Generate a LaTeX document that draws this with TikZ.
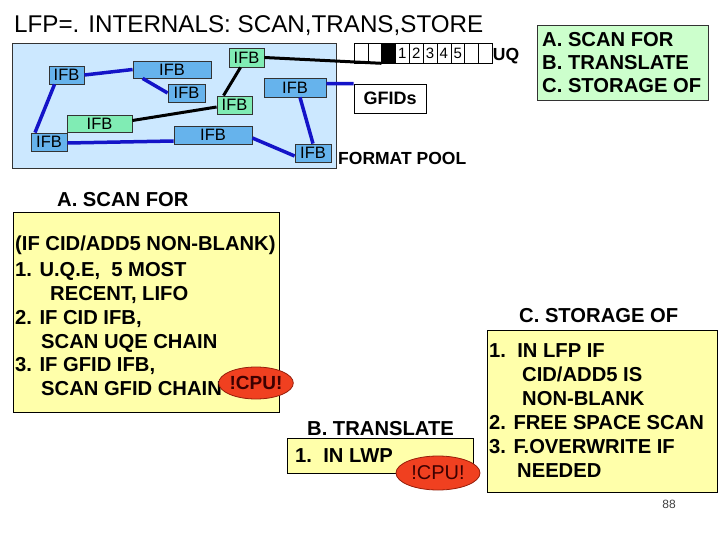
\documentclass[tikz,border=0pt]{standalone}
\usepackage{fontspec}
\setmainfont{Liberation Sans}
\usetikzlibrary{shapes.geometric}
\definecolor{poolfill}{RGB}{204,232,255}
\definecolor{ifbblue}{RGB}{102,179,236}
\definecolor{ifbgreen}{RGB}{128,236,180}
\definecolor{lineblue}{RGB}{20,20,200}
\definecolor{yelfill}{RGB}{255,255,170}
\definecolor{grnbox}{RGB}{204,255,204}
\definecolor{cpufill}{RGB}{240,64,32}
\definecolor{cpuedge}{RGB}{150,30,10}
\definecolor{cputext}{RGB}{60,0,0}
\begin{document}
\begin{tikzpicture}[x=1pt,y=-1pt,
  ifb/.style={draw=black!80,line width=0.8pt,font=\fontsize{16.5}{16.5}\selectfont,inner sep=0pt},
  blueifb/.style={ifb,fill=ifbblue},
  greenifb/.style={ifb,fill=ifbgreen},
  bl/.style={draw=lineblue,line width=3.5pt},
  bk/.style={draw=black,line width=3pt},
  bt/.style={font=\bfseries\fontsize{20.2}{24}\selectfont,inner sep=0pt,anchor=base west},
  st/.style={font=\bfseries\fontsize{17.5}{20}\selectfont,inner sep=0pt},
  ybox/.style={draw=black,line width=0.8pt,fill=yelfill},
  cpu/.style={ellipse,draw=cpuedge,line width=0.8pt,fill=cpufill,inner sep=0pt,text=cputext,
              font=\bfseries\fontsize{19}{19}\selectfont},
  cell/.style={draw=black,line width=0.6pt,minimum width=13.83pt,minimum height=20pt,
               inner sep=0pt,font=\fontsize{15}{15}\selectfont},
]
\useasboundingbox (0,0) rectangle (720,540);

% title
\node[anchor=base west,inner sep=0pt,font=\fontsize{24.2}{26}\selectfont] (title) at (14,33)
  {LFP=. INTERNALS: SCAN,TRANS,STORE};

% format pool
\draw[draw=black!80,line width=0.8pt,fill=poolfill] (12,43) rectangle (336,168);

\node[blueifb,minimum width=35pt,minimum height=18pt] (n1) at (66.5,75) {IFB};
\node[blueifb,minimum width=78pt,minimum height=17pt] (n2) at (172,69.5) {IFB};
\node[blueifb,minimum width=37pt,minimum height=18pt] (n3) at (186.5,93) {IFB};
\node[greenifb,minimum width=35pt,minimum height=19pt] (n4) at (246.5,57.5) {IFB};
\node[blueifb,minimum width=62pt,minimum height=19pt] (n5) at (295,87.5) {IFB};
\node[greenifb,minimum width=35pt,minimum height=18pt] (n6) at (234.5,105) {IFB};
\node[greenifb,minimum width=65pt,minimum height=17pt] (n7) at (99.5,123.5) {IFB};
\node[blueifb,minimum width=36pt,minimum height=18pt] (n8) at (49,142) {IFB};
\node[blueifb,minimum width=78pt,minimum height=18pt] (n9) at (213,135) {IFB};
\node[blueifb,minimum width=36pt,minimum height=18pt] (n10) at (313,153) {IFB};

% queue
\foreach \i/\t in {1/,2/,3/,4/1,5/2,6/3,7/4,8/5,9/,10/}{
  \node[cell] (q\i) at ({354+13.83*(\i-0.5)},53) {\t};
}
\fill[black] (q3.north west) rectangle (q3.south east);
\node[st] (uq) at (506,56) {UQ};

% GFIDs
\node[draw=black,line width=0.8pt,fill=white,minimum width=72pt,minimum height=29pt,
      inner sep=0pt,font=\bfseries\fontsize{18}{18}\selectfont] (gf) at (390,98.5) {GFIDs};

\node[st,anchor=base west] (fp) at (338,164.3) {FORMAT POOL};

% connectors
\draw[bl] (n1.east) -- (n2.west);
\draw[bl] ([xshift=10pt]n2.south west) -- (n3.west);
\draw[bl] ([xshift=-12pt]n1.south) -- ([xshift=-14pt]n8.north);
\draw[bl] ([yshift=-1pt]n8.east) -- ([yshift=-6pt]n9.west);
\draw[bl] ([yshift=-3pt]n9.east) -- ([yshift=-3pt]n10.west);
\draw[bl] ([xshift=5pt]n5.south) -- (n10.north);
\draw[bl] ([yshift=4pt]n5.east) -- (gf.north west);
\draw[bk] ([xshift=-11pt]n6.north) -- ([xshift=-6pt]n4.south);
\draw[bk] ([yshift=3pt]n7.east) -- ([yshift=-2pt]n6.west);
\draw[bk] (n4.east) -- (q3.south west);

% top-right green box
\draw[draw=black!80,line width=0.8pt,fill=grnbox] (537,25) rectangle (708,100);
\node[bt] (g1) at (542,47) {A. SCAN FOR};
\node[bt] (g2) at (542,70) {B. TRANSLATE};
\node[bt] (g3) at (542,93) {C. STORAGE OF};

% A section
\node[bt] (la) at (57,207) {A. SCAN FOR};
\draw[ybox] (13,212) rectangle (279,412);
\node[bt] (a1) at (15,251) {(IF CID/ADD5 NON-BLANK)};
\node[bt] (a2) at (15,276) {1. U.Q.E,\ \ 5 MOST};
\node[bt] (a3) at (50,300) {RECENT, LIFO};
\node[bt] (a4) at (15,324) {2. IF CID IFB,};
\node[bt] (a5) at (41,348) {SCAN UQE CHAIN};
\node[bt] (a6) at (15,371) {3. IF GFID IFB,};
\node[bt] (a7) at (41,395) {SCAN GFID CHAIN};
\node[cpu,minimum width=66pt,minimum height=32pt] (cpua) at (256,383) {!CPU!};

% B section
\node[bt] (lb) at (307,435) {B. TRANSLATE};
\draw[ybox] (287,438) rectangle (473,473);
\node[bt] (b1) at (295,462) {1.\ \ IN LWP};
\node[cpu,minimum width=84pt,minimum height=34pt,font=\fontsize{20}{20}\selectfont] (cpub) at (438,473) {!CPU!};

% C section
\node[bt] (lc) at (519,322) {C. STORAGE OF};
\draw[ybox] (487,330) rectangle (717,492);
\node[bt] (c1) at (489,357) {1.\ \ IN LFP IF};
\node[bt] (c2) at (522,381) {CID/ADD5 IS};
\node[bt] (c3) at (522,405) {NON-BLANK};
\node[bt] (c4) at (489,429) {2. FREE SPACE SCAN};
\node[bt] (c5) at (489,453) {3. F.OVERWRITE IF};
\node[bt] (c6) at (517,477) {NEEDED};

\node[font=\fontsize{12}{12}\selectfont,text=black!75,inner sep=0pt] (pg) at (669,504.5) {88};
\end{tikzpicture}
\end{document}
